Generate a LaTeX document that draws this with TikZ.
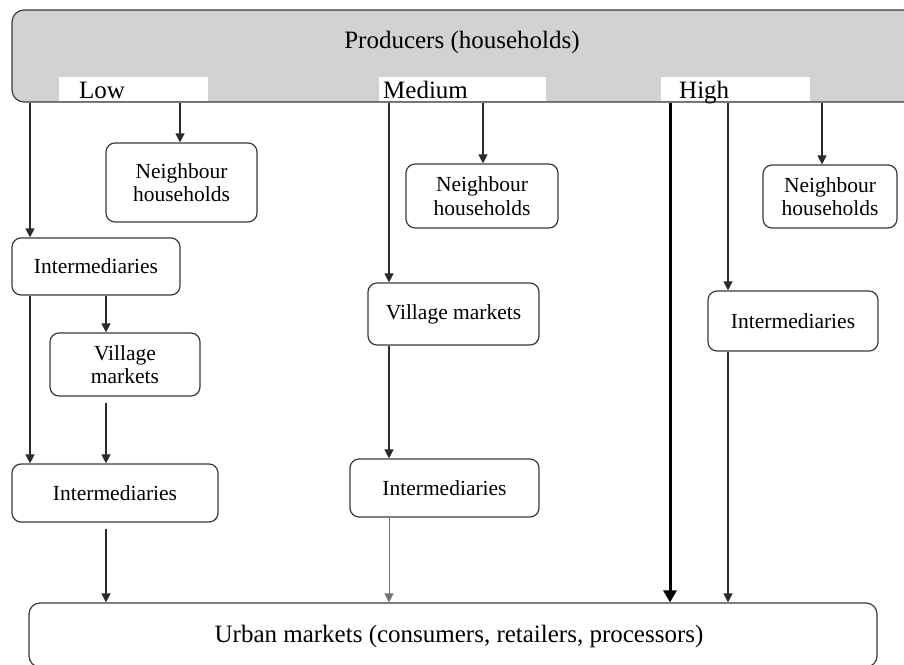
\documentclass[tikz,border=0pt]{standalone}
\usepackage{fontspec}
\setmainfont{Liberation Serif}
\usetikzlibrary{arrows.meta}
\definecolor{linec}{HTML}{2B2B2B}
\definecolor{boxc}{HTML}{3A3A3A}
\definecolor{prodfill}{HTML}{D1D2D4}
\begin{document}
\begin{tikzpicture}[x=1pt,y=-1pt,
  box/.style={draw=boxc, line width=1.2pt, rounded corners=9pt, fill=white,
    inner sep=0pt, align=center, font=\fontsize{21.5}{23.5}\selectfont},
  lvl/.style={fill=white, inner sep=0pt, minimum height=24pt},
  lvltxt/.style={anchor=base west, inner sep=0pt, font=\fontsize{25}{27}\selectfont},
  arr/.style={draw=linec, line width=1.3pt, -{Triangle[length=9pt,width=9pt]}},
  arrthin/.style={draw=black!55, line width=1pt, -{Triangle[length=9pt,width=9pt]}},
  arrthick/.style={draw=black, line width=3pt, -{Triangle[length=12pt,width=13pt]}}]
\useasboundingbox (0,0) rectangle (904,664);
\clip (0,0) rectangle (904,664);
% top box
\node[draw=boxc, line width=1.2pt, rounded corners=12pt, fill=prodfill, minimum width=908pt, minimum height=92pt, inner sep=0pt] (prod) at (466,56) {};
\node[font=\fontsize{25}{27}\selectfont, inner sep=0pt] (prodt) at (462,42) {Producers (households)};
\node[lvl, minimum width=149pt] (low) at (133.5,89) {};
\node[lvl, minimum width=167pt] (med) at (462.5,89) {};
\node[lvl, minimum width=149pt] (high) at (735.5,89) {};
\node[lvltxt] (lowt) at (79,98) {Low};
\node[lvltxt] (medt) at (383,98) {Medium};
\node[lvltxt] (hight) at (679,98) {High};
% boxes
\node[box, minimum width=151pt, minimum height=79pt] (nb1) at (181.5,182.5) {Neighbour\\households};
\node[box, minimum width=168pt, minimum height=57pt] (int1) at (96,266.5) {Intermediaries};
\node[box, minimum width=150pt, minimum height=63pt] (vm1) at (125,364.5) {Village\\markets};
\node[box, minimum width=206pt, minimum height=58pt] (int2) at (115,493) {Intermediaries};
\node[box, minimum width=152pt, minimum height=64pt] (nb2) at (482,196) {Neighbour\\households};
\node[box, minimum width=171pt, minimum height=62pt] (vm2) at (453.5,314) {Village markets};
\node[box, minimum width=189pt, minimum height=58pt] (int3) at (444.5,488) {Intermediaries};
\node[box, minimum width=134pt, minimum height=63pt] (nb3) at (830,196.5) {Neighbour\\households};
\node[box, minimum width=170pt, minimum height=60pt] (int4) at (793,321) {Intermediaries};
\node[box, rounded corners=11pt, minimum width=848pt, minimum height=64pt] (urb) at (453,635) {};
\node[font=\fontsize{25}{27}\selectfont, inner sep=0pt] (urbt) at (459,636) {Urban markets (consumers, retailers, processors)};
% x positions of connectors
\coordinate (xa) at (30,0);
\coordinate (xb) at (180,0);
\coordinate (xc) at (106,0);
\coordinate (xd) at (389,0);
\coordinate (xe) at (483,0);
\coordinate (xf) at (670,0);
\coordinate (xg) at (728,0);
\coordinate (xh) at (822,0);
% connectors
\draw[arr] (prod.south -| xa) -- (int1.north -| xa);
\draw[arr] (prod.south -| xb) -- (nb1.north -| xb);
\draw[arr] (int1.south -| xa) -- (int2.north -| xa);
\draw[arr] (int1.south -| xc) -- (vm1.north -| xc);
\draw[arr, shorten <=6pt] (vm1.south -| xc) -- (int2.north -| xc);
\draw[arr, shorten <=6pt] (int2.south -| xc) -- (urb.north -| xc);
\draw[arr] (prod.south -| xd) -- (vm2.north -| xd);
\draw[arr] (prod.south -| xe) -- (nb2.north -| xe);
\draw[arr] (vm2.south -| xd) -- (int3.north -| xd);
\draw[arrthin] (int3.south -| xd) -- (urb.north -| xd);
\draw[arrthick] (prod.south -| xf) -- (urb.north -| xf);
\draw[arr] (prod.south -| xg) -- (int4.north -| xg);
\draw[arr] (prod.south -| xh) -- (nb3.north -| xh);
\draw[arr] (int4.south -| xg) -- (urb.north -| xg);
\end{tikzpicture}
\end{document}
